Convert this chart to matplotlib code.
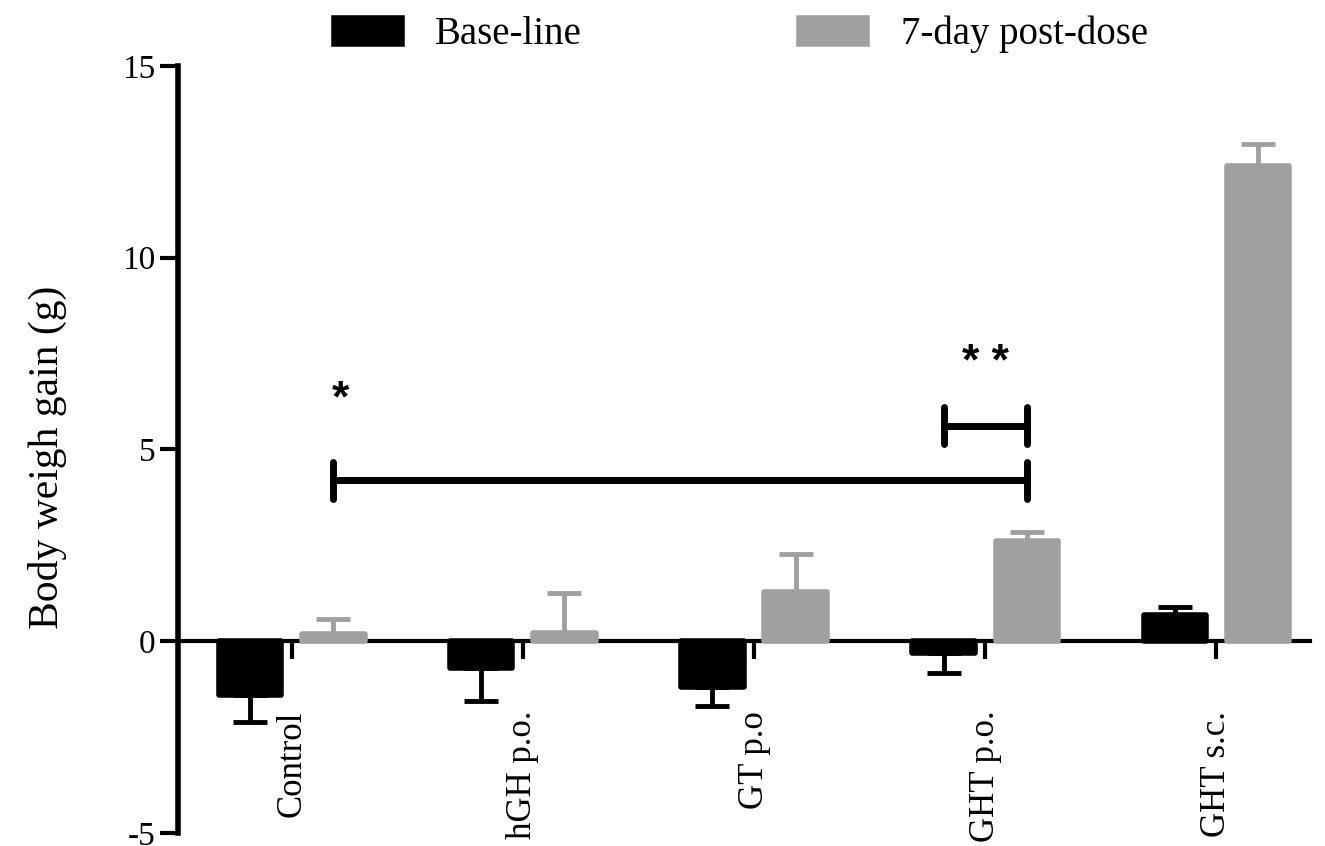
import numpy as np
import matplotlib
matplotlib.use("Agg")
import matplotlib.pyplot as plt

plt.rcParams["font.family"] = ["Liberation Serif", "DejaVu Serif"]
plt.rcParams["axes.unicode_minus"] = False

groups = ["Control", "hGH p.o.", "GT p.o", "GHT p.o.", "GHT s.c."]
series = ["Base-line", "7-day post-dose"]
baseline = np.array([-1.4, -0.7, -1.2, -0.3, 0.68])
baseline_err = np.array([0.7, 0.85, 0.5, 0.52, 0.22])
postdose = np.array([0.2, 0.22, 1.28, 2.62, 12.4])
postdose_err = np.array([0.37, 1.03, 1.0, 0.24, 0.57])

# significance brackets: (left x, right x, height)
sig_long = (0.18, 3.18, 4.2)
sig_short = (2.82, 3.18, 5.62)
stars = [(0.21, 6.0, "*"), (3.0, 6.95, "* *")]

colors = ["#000000", "#a0a0a0"]
off = 0.18
width = 0.27

fig = plt.figure(figsize=(13.25, 8.46), dpi=100)
ax = fig.add_axes([0.134, 0.0154, 0.855, 0.9066])

# spine position first: it resets the ticks
for s in ["top", "right"]:
    ax.spines[s].set_visible(False)
ax.spines["left"].set_linewidth(4)
ax.spines["bottom"].set_position(("data", 0))
ax.spines["bottom"].set_linewidth(3)
ax.spines["bottom"].set_zorder(2.5)

x = np.arange(len(groups))
handles = []
for i, (vals, errs) in enumerate([(baseline, baseline_err), (postdose, postdose_err)]):
    pos = x - off if i == 0 else x + off
    b = ax.bar(pos, vals, width, color=colors[i], edgecolor=colors[i],
               linewidth=4, joinstyle="round", zorder=3)
    handles.append(b)
    lower = np.where(vals < 0, errs, 0)
    upper = np.where(vals >= 0, errs, 0)
    ax.errorbar(pos, vals, yerr=[lower, upper], fmt="none", ecolor=colors[i],
                elinewidth=3.5, capsize=12.5, capthick=3.5, zorder=2)

# significance lines
lw_sig = 5
for x0, x1, h in [sig_long, sig_short]:
    ax.hlines(h, x0, x1, color="black", lw=lw_sig, capstyle="round", zorder=4)
    ax.vlines([x0, x1], h - 0.48, h + 0.48, color="black", lw=lw_sig,
              capstyle="round", zorder=4)
for sx, sy, s in stars:
    ax.text(sx, sy, s, ha="center", va="baseline", fontsize=32,
            fontweight="bold", family=["Liberation Sans", "DejaVu Sans"])

ax.set_xlim(-0.494, 4.407)
ax.set_ylim(-5, 15)
ax.set_yticks([-5, 0, 5, 10, 15])
ax.set_xticks(x)
ax.set_xticklabels(groups, rotation=90, fontsize=25)
ax.tick_params(axis="y", length=13, width=3, labelsize=24, pad=3)
ax.tick_params(axis="x", length=13, width=3, pad=37)

ax.set_ylabel("Body weigh gain (g)", fontsize=30)
ax.yaxis.set_label_coords(-0.098, 0.49)

ax.legend(handles, series, loc="center", bbox_to_anchor=(0.559, 0.959),
          bbox_transform=fig.transFigure, ncol=2, frameon=False, fontsize=28,
          handlelength=1.75, handleheight=0.65, handletextpad=0.85,
          columnspacing=5.6)

fig.savefig("out.png", dpi=100)
